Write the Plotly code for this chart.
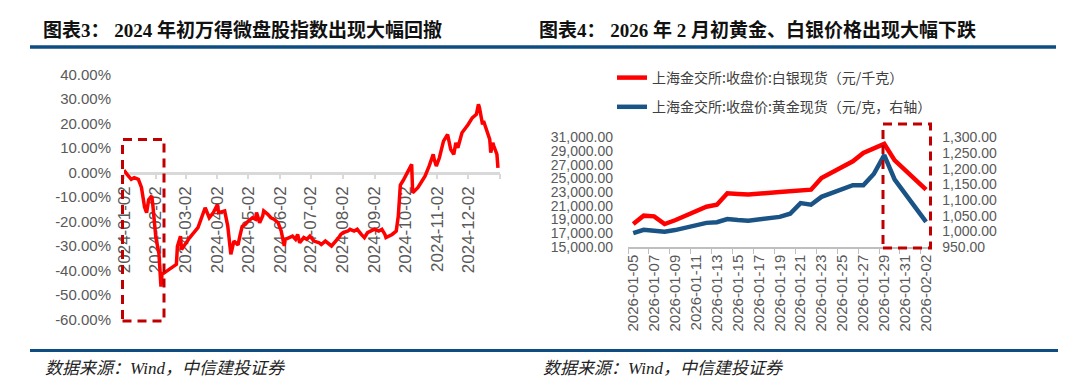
import pandas as pd
import plotly.graph_objects as go

# ---------------- Chart 3 data: Wind micro-cap index, cumulative return (%) ----------------
micro_dates = [
    "2024-01-02", "2024-01-03", "2024-01-05", "2024-01-09", "2024-01-12", "2024-01-16",
    "2024-01-19", "2024-01-22", "2024-01-24", "2024-01-26", "2024-01-29", "2024-01-30",
    "2024-02-02", "2024-02-05", "2024-02-07", "2024-02-08", "2024-02-22", "2024-02-23",
    "2024-02-26", "2024-02-27", "2024-03-06", "2024-03-14", "2024-03-21", "2024-03-25",
    "2024-03-29", "2024-04-02", "2024-04-03", "2024-04-09", "2024-04-12", "2024-04-15",
    "2024-04-18", "2024-04-22", "2024-04-24", "2024-04-26", "2024-04-29", "2024-05-02",
    "2024-05-06", "2024-05-09", "2024-05-10", "2024-05-13", "2024-05-16", "2024-05-17",
    "2024-05-21", "2024-05-24", "2024-05-27", "2024-05-31", "2024-06-03", "2024-06-06",
    "2024-06-07", "2024-06-11", "2024-06-14", "2024-06-17", "2024-06-19", "2024-06-21",
    "2024-06-25", "2024-06-28", "2024-07-01", "2024-07-05", "2024-07-10", "2024-07-12",
    "2024-07-16", "2024-07-22", "2024-07-25", "2024-07-29", "2024-07-31", "2024-08-02",
    "2024-08-07", "2024-08-09", "2024-08-13", "2024-08-16", "2024-08-20", "2024-08-23",
    "2024-08-26", "2024-08-29", "2024-09-02", "2024-09-06", "2024-09-09", "2024-09-12",
    "2024-09-13", "2024-09-19", "2024-09-23", "2024-09-25", "2024-09-26", "2024-09-27",
    "2024-09-30", "2024-10-08", "2024-10-09", "2024-10-14", "2024-10-17", "2024-10-21",
    "2024-10-25", "2024-10-29", "2024-10-30", "2024-11-01", "2024-11-04", "2024-11-08",
    "2024-11-12", "2024-11-15", "2024-11-18", "2024-11-20", "2024-11-22", "2024-11-26",
    "2024-12-02", "2024-12-06", "2024-12-10", "2024-12-12", "2024-12-13", "2024-12-16",
    "2024-12-17", "2024-12-19", "2024-12-23", "2024-12-24", "2024-12-26", "2024-12-27",
    "2024-12-30", "2024-12-31",
]
micro_ret = [
    0.0, 0.4, -0.7, -2.7, -2.0, -2.7,
    -6.0, -14.0, -16.3, -11.0, -9.5, -13.0,
    -26.5, -33.0, -46.5, -41.5, -37.4, -30.0,
    -25.9, -31.4, -26.5, -22.4, -14.3, -18.4,
    -16.3, -13.0, -16.3, -15.6, -21.8, -33.3,
    -27.9, -29.5, -25.5, -22.0, -21.1, -19.7,
    -18.4, -19.0, -16.3, -20.4, -17.7, -15.6,
    -17.0, -18.4, -19.0, -20.4, -23.8, -29.9,
    -27.2, -26.5, -25.9, -27.2, -25.2, -28.6,
    -26.5, -27.2, -25.9, -27.9, -28.6, -29.3,
    -27.9, -29.9, -28.6, -26.5, -25.2, -24.5,
    -23.8, -23.1, -23.8, -23.1, -25.2, -26.5,
    -24.5, -23.8, -23.1, -23.8, -23.1, -25.2,
    -26.5, -25.2, -23.8, -17.7, -10.0, -5.0,
    -3.0, 3.4, -8.2, -6.1, -4.1, -1.4,
    2.7, 7.5, 5.4, 2.7, 6.1, 12.9,
    15.6, 9.5, 7.5, 12.2, 10.2, 16.3,
    19.7, 22.4, 23.8, 27.9, 26.5, 19.7,
    21.1, 18.4, 13.6, 8.2, 12.2, 10.9,
    7.5, 2.0,
]
micro_tick_dates = ["2024-%02d-02" % m for m in range(1, 13)]
micro_tick_end = "2025-01-02"
micro_yticks = [40, 30, 20, 10, 0, -10, -20, -30, -40, -50, -60]

# ---------------- Chart 4 data: SGE closing prices ----------------
metal_dates = [
    "2026-01-05", "2026-01-06", "2026-01-07", "2026-01-08", "2026-01-09",
    "2026-01-12", "2026-01-13", "2026-01-14", "2026-01-15", "2026-01-16",
    "2026-01-19", "2026-01-20", "2026-01-21", "2026-01-22", "2026-01-23",
    "2026-01-26", "2026-01-27", "2026-01-28", "2026-01-29", "2026-01-30",
    "2026-02-02",
]
silver = [
    18350, 19570, 19470, 18350, 18900,
    20880, 21170, 22830, 22730, 22650,
    23020, 23120, 23270, 23360, 25070,
    27500, 28710, 29300, 30030, 27640,
    23360,
]
gold = [
    994, 1005, 1002, 999, 1004,
    1027, 1029, 1039, 1036, 1034,
    1046, 1056, 1090, 1085, 1110,
    1147, 1147, 1183, 1243, 1165,
    1030,
]
silver_name = "上海金交所:收盘价:白银现货（元/千克）"
gold_name = "上海金交所:收盘价:黄金现货（元/克，右轴）"

title3 = "图表3： 2024 年初万得微盘股指数出现大幅回撤"
title4 = "图表4： 2026 年 2 月初黄金、白银价格出现大幅下跌"
source = "数据来源：Wind，中信建投证券"

# ---------------- styling ----------------
W, H = 1080, 380
RED = "#FF0000"
BLUE = "#1A5385"
BOXRED = "#C00000"
RULE = "#0E4D82"
TICKC = "#595959"
AXC = "#D9D9D9"
SANS = "Liberation Sans, Arial, sans-serif"
CJK = "Noto Sans CJK SC"
TITLEF = "Liberation Serif, Noto Sans CJK SC"


def px_x(p):
    return p / W


def px_y(p):
    return 1 - p / H


fig = go.Figure()

fig.add_trace(go.Scatter(
    x=micro_dates, y=micro_ret, mode="lines",
    line=dict(color=RED, width=3.5), showlegend=False,
    xaxis="x", yaxis="y",
))

fig.add_trace(go.Scatter(
    x=metal_dates, y=silver, mode="lines", name=silver_name,
    line=dict(color=RED, width=4.5), xperiod=86400000, xperiodalignment="middle",
    xaxis="x2", yaxis="y2", legendgroup="s",
))
fig.add_trace(go.Scatter(
    x=metal_dates, y=gold, mode="lines", name=gold_name,
    line=dict(color=BLUE, width=4.5), xperiod=86400000, xperiodalignment="middle",
    xaxis="x2", yaxis="y3", legendgroup="g",
))

# left chart geometry
y1_dom = [px_y(311.7), px_y(66.7)]
y1_rng = [-60, 40]
zero_pos = y1_dom[0] + (0 - y1_rng[0]) / (y1_rng[1] - y1_rng[0]) * (y1_dom[1] - y1_dom[0])

micro_tickvals = micro_tick_dates + [micro_tick_end]
micro_ticktext = micro_tick_dates + [""]

metal_label_days = pd.date_range(metal_dates[0], metal_dates[-1], freq="2D")
metal_label_pos = list(metal_label_days + pd.Timedelta(hours=12))
metal_label_txt = [d.strftime("%Y-%m-%d") for d in metal_label_days]

fig.update_layout(
    width=W, height=H,
    margin=dict(l=0, r=0, t=0, b=0, autoexpand=False),
    paper_bgcolor="white", plot_bgcolor="rgba(0,0,0,0)",
    xaxis=dict(
        domain=[px_x(116), px_x(492)], type="date", automargin=False,
        range=[micro_dates[0], micro_tick_end],
        anchor="free", position=zero_pos, layer="below traces",
        tickvals=micro_tickvals, ticktext=micro_ticktext,
        tickangle=-90, ticks="outside", ticklen=5, tickcolor=AXC, tickwidth=1.5,
        showline=True, linecolor=AXC, linewidth=2.5,
        showgrid=False, zeroline=False,
        tickfont=dict(family=SANS, size=17, color=TICKC),
    ),
    yaxis=dict(
        domain=y1_dom, range=y1_rng, anchor="x", automargin=False,
        tickvals=micro_yticks, ticktext=["%.2f%%" % v for v in micro_yticks],
        showgrid=False, zeroline=False, showline=False, ticks="",
        ticklabelstandoff=12,
        tickfont=dict(family=SANS, size=15, color=TICKC),
    ),
    xaxis2=dict(
        domain=[px_x(620), px_x(923.3)], type="date", automargin=False,
        range=[metal_dates[0], "2026-02-03"], anchor="y2",
        tickvals=metal_label_pos, ticktext=metal_label_txt,
        tickangle=-90, ticks="", showgrid=False, zeroline=False,
        showline=True, linecolor="#BFBFBF", linewidth=1.5,
        minor=dict(ticks="outside", ticklen=5, tickcolor="#BFBFBF", tickwidth=1,
                   dtick=2 * 86400000, tick0=metal_dates[0], showgrid=False),
        tickfont=dict(family=SANS, size=15, color=TICKC),
    ),
    yaxis2=dict(
        domain=[px_y(239), px_y(129.3)], range=[15000, 31000], dtick=2000, tick0=15000,
        anchor="x2", tickformat=",.2f", showgrid=False, zeroline=False,
        showline=False, ticklabelstandoff=14, automargin=False,
        tickfont=dict(family=SANS, size=14, color=TICKC),
    ),
    yaxis3=dict(
        domain=[px_y(239), px_y(129.3)], range=[950, 1300], dtick=50, tick0=950,
        anchor="x2", overlaying="y2", side="right", tickformat=",.2f",
        showgrid=False, zeroline=False, showline=False, ticklabelstandoff=10,
        automargin=False,
        tickfont=dict(family=SANS, size=14, color=TICKC),
    ),
    legend=dict(
        x=px_x(604), y=px_y(54), xanchor="left", yanchor="top",
        orientation="v", traceorder="grouped", tracegroupgap=8,
        bgcolor="rgba(0,0,0,0)",
        font=dict(family=CJK, size=14, color="#404040"),
    ),
)

# highlight boxes (paper coordinates so they may extend past the axis ranges)
box3 = dict(x0=px_x(114.5), x1=px_x(156), y0=px_y(313), y1=px_y(131.5))
box4 = dict(x0=px_x(875), x1=px_x(922.5), y0=px_y(240), y1=px_y(116))

shapes = [
    dict(type="line", xref="paper", yref="paper", x0=px_x(22), x1=px_x(1048),
         y0=px_y(39), y1=px_y(39), line=dict(color=RULE, width=3.5)),
    dict(type="line", xref="paper", yref="paper", x0=px_x(22), x1=px_x(1050),
         y0=px_y(342.5), y1=px_y(342.5), line=dict(color=RULE, width=3)),
    dict(type="rect", xref="paper", yref="paper", **box3,
         line=dict(color=BOXRED, width=3, dash="9px,6px")),
    dict(type="rect", xref="paper", yref="paper", **box4,
         line=dict(color=BOXRED, width=3, dash="9px,6px")),
]
fig.update_layout(shapes=shapes)

annos = [
    dict(text=title3, x=px_x(33), y=px_y(22), xanchor="left", yanchor="middle",
         font=dict(family=TITLEF, size=19, color="#111111", weight="bold")),
    dict(text=title4, x=px_x(529), y=px_y(22), xanchor="left", yanchor="middle",
         font=dict(family=TITLEF, size=19, color="#111111", weight="bold")),
    dict(text=source, x=px_x(35), y=px_y(360), xanchor="left", yanchor="middle",
         font=dict(family=TITLEF, size=17, color="#222222", style="italic")),
    dict(text=source, x=px_x(533), y=px_y(360), xanchor="left", yanchor="middle",
         font=dict(family=TITLEF, size=17, color="#222222", style="italic")),
]
for a in annos:
    a.update(xref="paper", yref="paper", showarrow=False)
fig.update_layout(annotations=annos)

fig.write_html("out.html")
